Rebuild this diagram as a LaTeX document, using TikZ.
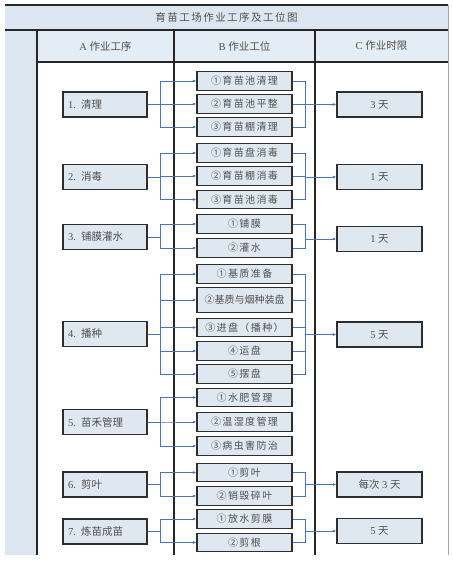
\documentclass[tikz,border=0pt]{standalone}
\usepackage{fontspec}
\setmainfont{Liberation Serif}
\newfontfamily\cjk{Noto Sans CJK SC}
\newfontfamily\cjkw[LetterSpace=14]{Noto Sans CJK SC}
\usetikzlibrary{arrows.meta}
\definecolor{bandblue}{HTML}{DCE6F1}
\definecolor{headblue}{HTML}{E4ECF5}
\definecolor{boxfill}{HTML}{DFE7F0}
\definecolor{boxline}{HTML}{2E2E2E}
\definecolor{txt}{HTML}{505050}
\definecolor{linkblue}{HTML}{4A74B4}
\tikzset{
  basebox/.style={draw=boxline, line width=1.3pt, fill=boxfill, text=txt, inner sep=0pt},
  abox/.style={basebox, minimum width=84, minimum height=25, text width=74, align=left, font=\fontsize{10.5}{12}\selectfont},
  bbox/.style={basebox, minimum width=95, minimum height=18.5, font=\fontsize{10}{12}\selectfont\cjkw},
  cbox/.style={basebox, minimum width=85, minimum height=25, font=\fontsize{10.5}{12}\selectfont},
  link/.style={draw=linkblue, line width=0.9pt},
  arr/.style={link, -{Latex[length=3.5pt,width=3pt]}},
  frame/.style={line width=1.6pt, draw=black!85},
  hdr/.style={text=txt, font=\fontsize{10.5}{12}\selectfont}
}
\begin{document}
\begin{tikzpicture}[x=1pt,y=-1pt]
\useasboundingbox (0,0) rectangle (453,563);
% backgrounds
\fill[bandblue] (5,5) rectangle (448,30);
\fill[headblue] (37,30) rectangle (448,62);
\fill[bandblue] (5,30) rectangle (37,555);
% frame lines
\draw[frame] (5,5) -- (448,5);
\draw[frame] (5,30) -- (448,30);
\draw[frame] (37,62) -- (448,62);
\draw[frame] (37,30) -- (37,555);
\draw[frame] (174,30) -- (174,555);
\draw[frame] (315,30) -- (315,555);
\draw[line width=1pt, draw=black!35] (448,5) -- (448,555);
% titles
\node[hdr] (title) at (226.5,17.5) {\cjkw 育苗工场作业工序及工位图};
\node[hdr] (ha) at (105.5,46) {A {\cjk 作业工序}};
\node[hdr] (hb) at (244.5,46) {B {\cjk 作业工位}};
\node[hdr] (hc) at (381.5,46) {C {\cjk 作业时限}};
% bus x positions
\coordinate (lx) at (160,0);
\coordinate (rx) at (305,0);
% A boxes
\node[abox] (a1) at (105,104.5) {1. {\cjk 清理}};
\node[abox] (a2) at (105,177) {2. {\cjk 消毒}};
\node[abox] (a3) at (105,237) {3. {\cjk 铺膜灌水}};
\node[abox] (a4) at (105,334) {4. {\cjk 播种}};
\node[abox] (a5) at (105,422) {5. {\cjk 苗禾管理}};
\node[abox] (a6) at (105,484.5) {6. {\cjk 剪叶}};
\node[abox] (a7) at (105,531.5) {7. {\cjk 炼苗成苗}};
% B boxes
\node[bbox] (b11) at (244.5,81) {①育苗池清理};
\node[bbox] (b12) at (244.5,104) {②育苗池平整};
\node[bbox] (b13) at (244.5,127) {③育苗棚清理};
\node[bbox] (b21) at (244.5,153) {①育苗盘消毒};
\node[bbox] (b22) at (244.5,176) {②育苗棚消毒};
\node[bbox] (b23) at (244.5,199.5) {③育苗池消毒};
\node[bbox] (b31) at (244.5,224) {①铺膜};
\node[bbox] (b32) at (244.5,248) {②灌水};
\node[bbox] (b41) at (244.5,274) {①基质准备};
\node[bbox, minimum height=25, font=\fontsize{10}{12}\selectfont\cjk] (b42) at (244.5,300) {②基质与烟种装盘};
\node[bbox] (b43) at (244.5,327.5) {③进盘（播种）};
\node[bbox] (b44) at (244.5,351) {④运盘};
\node[bbox] (b45) at (244.5,374) {⑤摆盘};
\node[bbox] (b51) at (244.5,397.5) {①水肥管理};
\node[bbox] (b52) at (244.5,422) {②温湿度管理};
\node[bbox] (b53) at (244.5,446) {③病虫害防治};
\node[bbox] (b61) at (244.5,472.5) {①剪叶};
\node[bbox] (b62) at (244.5,496) {②销毁碎叶};
\node[bbox] (b71) at (244.5,519) {①放水剪膜};
\node[bbox] (b72) at (244.5,542.5) {②剪根};
% C boxes
\node[cbox] (c1) at (379.5,104.5) {3 {\cjk 天}};
\node[cbox] (c2) at (379.5,177) {1 {\cjk 天}};
\node[cbox] (c3) at (379.5,239) {1 {\cjk 天}};
\node[cbox] (c4) at (379.5,334.5) {5 {\cjk 天}};
\node[cbox] (c6) at (379.5,484.5) {{\cjk 每次} 3 {\cjk 天}};
\node[cbox] (c7) at (379.5,531) {5 {\cjk 天}};
% A -> B connectors
\foreach \b in {b11,b12,b13} \draw[arr] (a1.east) -| (lx |- \b.west) -- (\b.west);
\foreach \b in {b21,b22,b23} \draw[arr] (a2.east) -| (lx |- \b.west) -- (\b.west);
\foreach \b in {b31,b32} \draw[arr] (a3.east) -| (lx |- \b.west) -- (\b.west);
\foreach \b in {b41,b42,b43,b44,b45} \draw[arr] (a4.east) -| (lx |- \b.west) -- (\b.west);
\foreach \b in {b51,b52,b53} \draw[arr] (a5.east) -| (lx |- \b.west) -- (\b.west);
\foreach \b in {b61,b62} \draw[arr] (a6.east) -| (lx |- \b.west) -- (\b.west);
\foreach \b in {b71,b72} \draw[arr] (a7.east) -| (lx |- \b.west) -- (\b.west);
% B -> C connectors
\foreach \b in {b11,b12,b13} \draw[link] (\b.east) -| (rx |- c1.west);
\draw[arr] (rx |- c1.west) -- (c1.west);
\foreach \b in {b21,b22,b23} \draw[link] (\b.east) -| (rx |- c2.west);
\draw[arr] (rx |- c2.west) -- (c2.west);
\foreach \b in {b31,b32} \draw[link] (\b.east) -| (rx |- c3.west);
\draw[arr] (rx |- c3.west) -- (c3.west);
\foreach \b in {b41,b42,b43,b44,b45} \draw[link] (\b.east) -| (rx |- c4.west);
\draw[arr] (rx |- c4.west) -- (c4.west);
\foreach \b in {b61,b62} \draw[link] (\b.east) -| (rx |- c6.west);
\draw[arr] (rx |- c6.west) -- (c6.west);
\foreach \b in {b71,b72} \draw[link] (\b.east) -| (rx |- c7.west);
\draw[arr] (rx |- c7.west) -- (c7.west);
\end{tikzpicture}
\end{document}
